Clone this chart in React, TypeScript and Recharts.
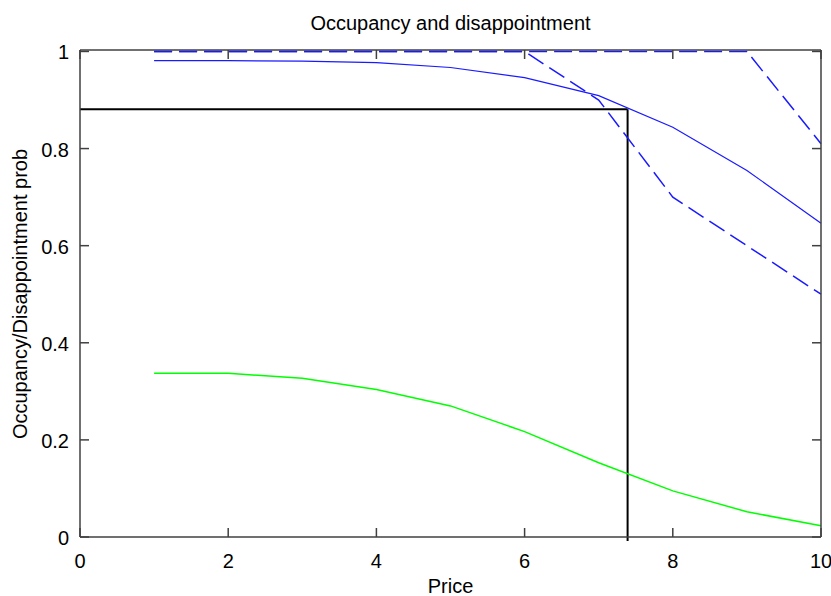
import { LineChart, Line, XAxis, YAxis, ReferenceLine } from "recharts";

// price points (x) and the four curves
const prices = [1, 2, 3, 4, 5, 6, 7, 8, 9, 10];
const occupancy = [0.981, 0.981, 0.98, 0.977, 0.967, 0.946, 0.909, 0.844, 0.755, 0.646];
const disappointment = [0.337, 0.337, 0.327, 0.304, 0.27, 0.217, 0.153, 0.095, 0.052, 0.023];
const upperBound = [1, 1, 1, 1, 1, 1, 1, 1, 1, 0.81];
const lowerBound = [1, 1, 1, 1, 1, 1, 0.9, 0.7, 0.6, 0.5];

const xTicks = [0, 2, 4, 6, 8, 10];
const yTicks = [0, 0.2, 0.4, 0.6, 0.8, 1];

// chosen operating point
const optimalPrice = 7.39;
const optimalOccupancy = 0.881;

const data = prices.map((price, i) => ({
  price,
  occupancy: occupancy[i],
  disappointment: disappointment[i],
  upper: upperBound[i],
  lower: lowerBound[i],
}));

const W = 831;
const H = 596;
const MARGIN_TOP = 49;
const X_AXIS_H = 59;
const Y_AXIS_W = 80;
const RIGHT_W = 10;
const PLOT_TOP = MARGIN_TOP + 1;
const PLOT_RIGHT = W - RIGHT_W;

const AXIS = "#404040";
const FONT = "'Liberation Sans', Arial, Helvetica, sans-serif";
const TICK = 9;

// MATLAB style: ticks point inward, mirrored on the top and right edges
function BottomTick({ x, y, payload }: any) {
  return (
    <g>
      <line x1={x} y1={y} x2={x} y2={y - TICK} stroke={AXIS} strokeWidth={1.5} />
      <line x1={x} y1={PLOT_TOP} x2={x} y2={PLOT_TOP + TICK} stroke={AXIS} strokeWidth={1.5} />
      <text x={x} y={y + 31} textAnchor="middle" fontSize={20} fontFamily={FONT} fill="#000">
        {payload.value}
      </text>
    </g>
  );
}

function LeftTick({ x, y, payload }: any) {
  return (
    <g>
      <line x1={x} y1={y} x2={x + TICK} y2={y} stroke={AXIS} strokeWidth={1.5} />
      <line x1={PLOT_RIGHT} y1={y} x2={PLOT_RIGHT - TICK} y2={y} stroke={AXIS} strokeWidth={1.5} />
      <text x={x - 11} y={y + 8} textAnchor="end" fontSize={20} fontFamily={FONT} fill="#000">
        {payload.value}
      </text>
    </g>
  );
}

function YLabel({ viewBox }: any) {
  const cx = viewBox.x + 27;
  const cy = 294;
  return (
    <text
      x={cx}
      y={cy}
      transform={`rotate(-90 ${cx} ${cy})`}
      textAnchor="middle"
      fontSize={20}
      fontFamily={FONT}
      fill="#000"
    >
      Occupancy/Disappointment prob
    </text>
  );
}

export default function App() {
  return (
    <div style={{ width: W, height: H, background: "#fff" }}>
      <style>{"body{margin:0}"}</style>
      <LineChart width={W} height={H} data={data} margin={{ top: MARGIN_TOP, right: 0, bottom: 0, left: 0 }}>
        <XAxis
          dataKey="price"
          type="number"
          domain={[0, 10]}
          ticks={xTicks}
          height={X_AXIS_H}
          tickLine={false}
          tickSize={0}
          tickMargin={0}
          tick={<BottomTick />}
          axisLine={{ stroke: AXIS, strokeWidth: 1.5 }}
          label={{ value: "Price", position: "insideBottom", offset: 3, fontSize: 20, fontFamily: FONT, fill: "#000" }}
        />
        <XAxis
          xAxisId="top"
          orientation="top"
          dataKey="price"
          type="number"
          domain={[0, 10]}
          height={1}
          tick={false}
          tickLine={false}
          axisLine={{ stroke: AXIS, strokeWidth: 1.5 }}
          label={{
            value: "Occupancy and disappointment",
            position: "top",
            offset: 19,
            fontSize: 20,
            fontFamily: FONT,
            fill: "#000",
          }}
        />
        <YAxis
          type="number"
          domain={[0, 1.003]}
          ticks={yTicks}
          width={Y_AXIS_W}
          tickLine={false}
          tickSize={0}
          tickMargin={0}
          tick={<LeftTick />}
          axisLine={{ stroke: AXIS, strokeWidth: 1.5 }}
          label={<YLabel />}
        />
        <YAxis
          yAxisId="right"
          orientation="right"
          type="number"
          domain={[0, 1]}
          width={RIGHT_W}
          tick={false}
          tickLine={false}
          axisLine={{ stroke: AXIS, strokeWidth: 1.5 }}
        />
        <ReferenceLine
          segment={[
            { x: 0, y: optimalOccupancy },
            { x: optimalPrice, y: optimalOccupancy },
          ]}
          stroke="#000"
          strokeWidth={2}
        />
        <ReferenceLine
          segment={[
            { x: optimalPrice, y: optimalOccupancy },
            { x: optimalPrice, y: -0.008 },
          ]}
          ifOverflow="visible"
          stroke="#000"
          strokeWidth={2}
        />
        <Line
          dataKey="upper"
          type="linear"
          stroke="#1a1aff"
          strokeWidth={1.5}
          strokeDasharray="18 7"
          dot={false}
          isAnimationActive={false}
        />
        <Line
          dataKey="lower"
          type="linear"
          stroke="#1a1aff"
          strokeWidth={1.5}
          strokeDasharray="18 7"
          dot={false}
          isAnimationActive={false}
        />
        <Line
          dataKey="occupancy"
          type="linear"
          stroke="#1a1aff"
          strokeWidth={1.2}
          dot={false}
          isAnimationActive={false}
        />
        <Line
          dataKey="disappointment"
          type="linear"
          stroke="#00ff00"
          strokeWidth={1.5}
          dot={false}
          isAnimationActive={false}
        />
      </LineChart>
    </div>
  );
}
